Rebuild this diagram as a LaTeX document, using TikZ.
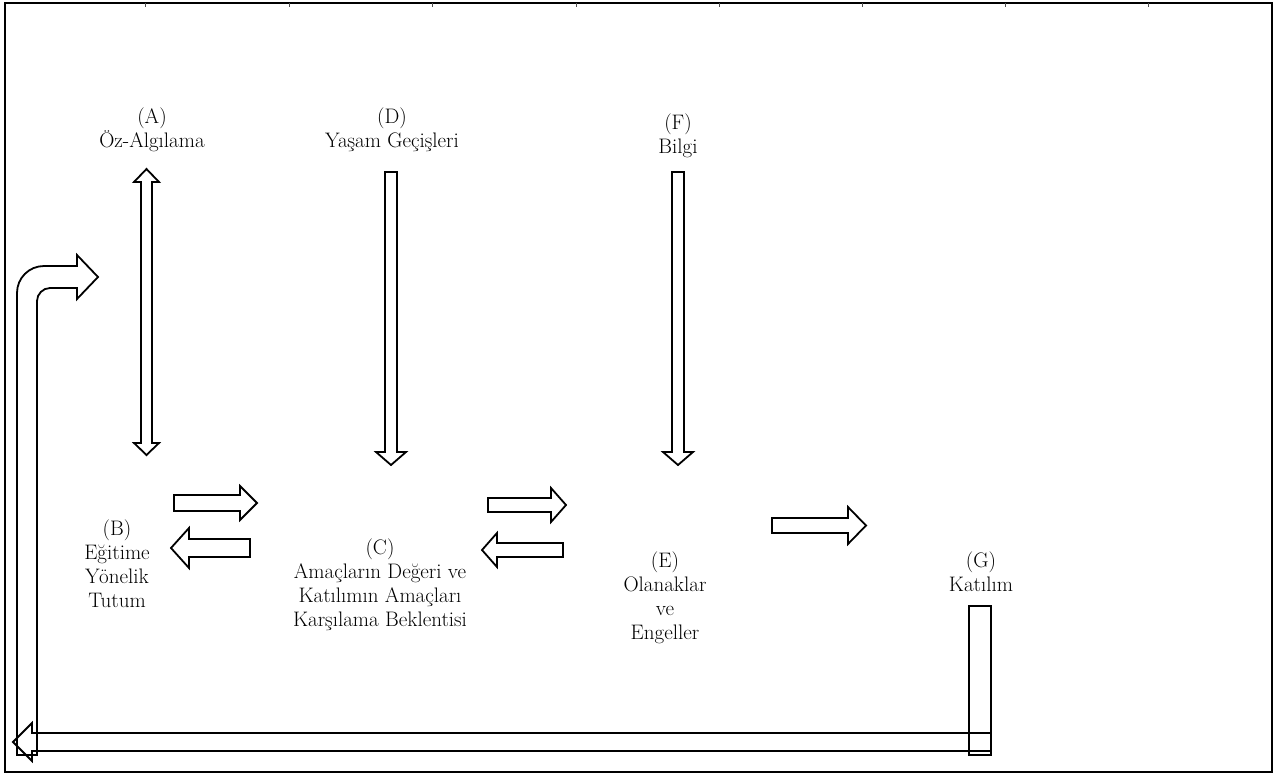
\documentclass[tikz,border=0pt]{standalone}
\usepackage{tikz}
\tikzset{
  blk/.style={draw=black, line width=1.8pt, line join=miter, fill=none},
  lbl/.style={inner sep=0pt, align=center, font=\fontsize{21}{24}\selectfont},
  frame/.style={draw=black, line width=1.1pt},
  tick/.style={draw=black!70, line width=0.6pt}
}
\begin{document}
\begin{tikzpicture}[x=1pt,y=-1pt]
\useasboundingbox (0,0) rectangle (1274,774);
% frame
\draw[frame] (5,3) rectangle (1272,772);
\draw[frame, line width=1.6pt] (5,3) -- (1272,3);
\foreach \tx in {145,289,432,576,719,862,1005,1148}
  \draw[tick] (\tx,3) -- (\tx,7);
% labels
\node[lbl] (A) at (152,130) {(A)\\Öz-Algılama};
\node[lbl] (D) at (392,130) {(D)\\Yaşam Geçişleri};
\node[lbl] (F) at (678,136) {(F)\\Bilgi};
\node[lbl] (B) at (117,564) {(B)\\Eğitime\\Yönelik\\Tutum};
\node[lbl] (C) at (380,585) {(C)\\Amaçların Değeri ve\\Katılımın Amaçları\\Karşılama Beklentisi};
\node[lbl] (E) at (665,598) {(E)\\Olanaklar\\ve\\Engeller};
\node[lbl] (G) at (981,572) {(G)\\Katılım};
% A <-> B double arrow
\draw[blk] (146.5,169) -- (159,182) -- (152,182) -- (152,443) -- (159,443) -- (146.5,455)
  -- (134,443) -- (141,443) -- (141,182) -- (134,182) -- cycle;
% D -> C
\draw[blk] (385,172) -- (397,172) -- (397,452) -- (406,452) -- (391,465) -- (376,452) -- (385,452) -- cycle;
% F -> E
\draw[blk] (672,172) -- (684,172) -- (684,452) -- (693,452) -- (678,465) -- (663,452) -- (672,452) -- cycle;
% B -> C
\draw[blk] (174,495) -- (240,495) -- (240,486) -- (257,503) -- (240,520) -- (240,511) -- (174,511) -- cycle;
% C -> B
\draw[blk] (250,539) -- (189,539) -- (189,528) -- (171,548) -- (189,568) -- (189,557) -- (250,557) -- cycle;
% C -> E
\draw[blk] (488,498) -- (551,498) -- (551,488) -- (566,505) -- (551,522) -- (551,512) -- (488,512) -- cycle;
% E -> C
\draw[blk] (563,543) -- (497,543) -- (497,533) -- (482,550) -- (497,567) -- (497,557) -- (563,557) -- cycle;
% E -> G
\draw[blk] (772,518) -- (848,518) -- (848,507) -- (866,525.5) -- (848,544) -- (848,533) -- (772,533) -- cycle;
% G feedback: vertical bar
\draw[blk] (969,606) rectangle (991,755);
% bottom long arrow to the left
\draw[blk] (991,733) -- (32,733) -- (32,723) -- (13,742) -- (32,761) -- (32,751) -- (991,751) -- cycle;
% bent arrow up and right towards A/B
\draw[blk] (17,755) -- (17,293) .. controls (17,278) and (29,266) .. (44,266) -- (77,266) -- (77,255)
  -- (98,277) -- (77,299) -- (77,288) -- (50,288) .. controls (43,288) and (37,294) .. (37,301)
  -- (37,755) -- cycle;
\end{tikzpicture}
\end{document}
